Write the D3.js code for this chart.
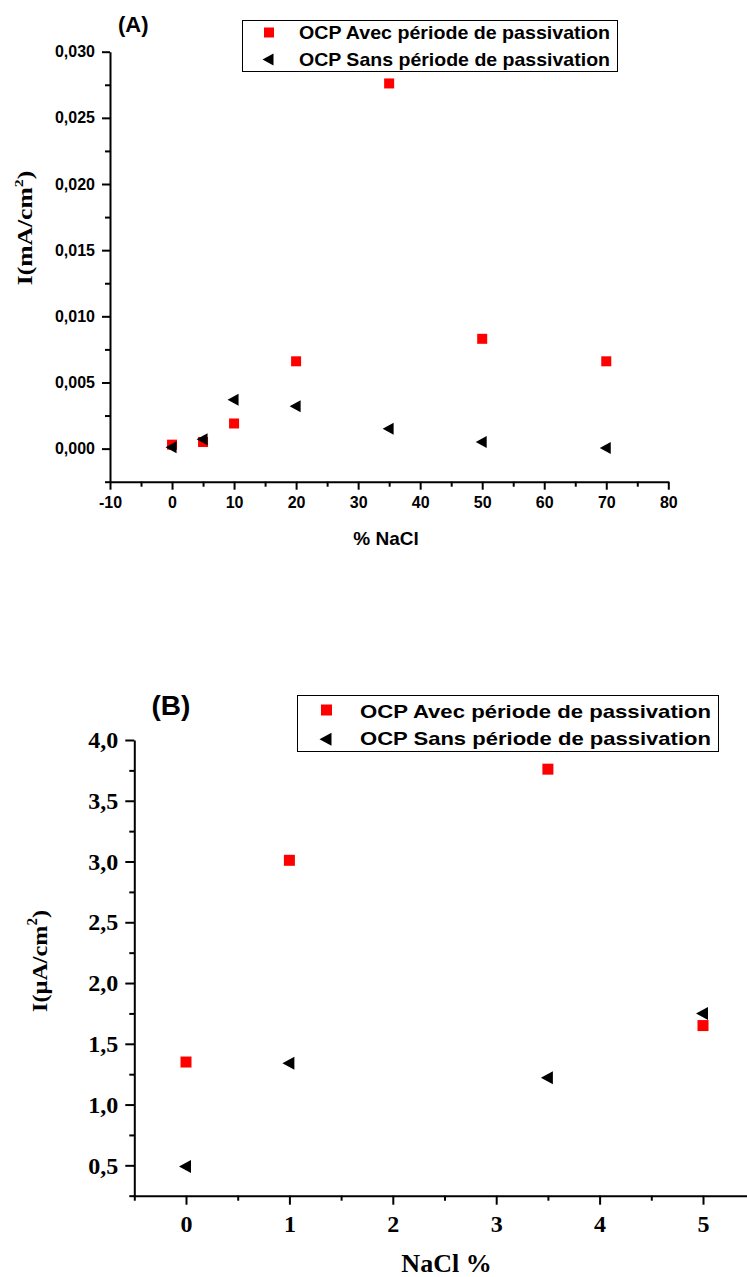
<!DOCTYPE html>
<html>
<head>
<meta charset="utf-8">
<script src="https://cdn.jsdelivr.net/npm/d3@7"></script>
<style>
  html, body { margin: 0; padding: 0; background: #fff; }
  svg { display: block; }
</style>
</head>
<body>
<svg id="fig" width="747" height="1277"></svg>
<script>
// ---- Panel A: current density (mA/cm²) vs % NaCl ----
const aNaCl = [0, 5, 10, 20, 35, 50, 70];
const aAvec = [0.0003, 0.0005, 0.0019, 0.0066, 0.0276, 0.0083, 0.0066];
const aSans = [0.0001, 0.0007, 0.0037, 0.0032, 0.0015, 0.0005, 0.00005];
const aXTicks = [-10, 0, 10, 20, 30, 40, 50, 60, 70, 80];
const aXMinor = [-5, 5, 15, 25, 35, 45, 55, 65, 75];
const aYTicks = [0, 0.005, 0.010, 0.015, 0.020, 0.025, 0.030];
const aYMinor = [-0.0025, 0.0025, 0.0075, 0.0125, 0.0175, 0.0225, 0.0275];

// ---- Panel B: current density (µA/cm²) vs NaCl % ----
const bNaCl = [0, 1, 3.5, 5];
const bAvec = [1.35, 3.01, 3.76, 1.65];
const bSans = [0.49, 1.34, 1.22, 1.75];
const bXTicks = [0, 1, 2, 3, 4, 5];
const bXMinor = [-0.5, 0.5, 1.5, 2.5, 3.5, 4.5, 5.5];
const bYTicks = [0.5, 1.0, 1.5, 2.0, 2.5, 3.0, 3.5, 4.0];
const bYMinor = [0.25, 0.75, 1.25, 1.75, 2.25, 2.75, 3.25, 3.75];

const seriesNames = ["OCP Avec période de passivation", "OCP Sans période de passivation"];

// French number style: comma decimal, plain hyphen for negatives
const fr = d3.formatLocale({ decimal: ",", thousands: " ", grouping: [3], currency: ["", "€"], minus: "-" });
const fmtA = fr.format(".3f");
const fmtB = fr.format(".1f");
const fmtInt = fr.format("d");

const svg = d3.select("#fig");
const SANS = "'Liberation Sans', Arial, sans-serif";
const SERIF = "'Liberation Serif', 'Times New Roman', serif";

function triPath(w, h) {
  return `M${-w / 2},0L${w / 2},${-h / 2}L${w / 2},${h / 2}Z`;
}

function drawAxis(g, axis, font, size) {
  g.call(axis);
  g.select(".domain").attr("stroke", "#000").attr("stroke-width", 2);
  g.selectAll(".tick line").attr("stroke", "#000").attr("stroke-width", 2);
  g.selectAll(".tick text")
    .attr("font-family", font).attr("font-size", size)
    .attr("font-weight", "bold").attr("fill", "#000");
}

function panel(cfg) {
  const g = svg.append("g");
  const x = d3.scaleLinear().domain(cfg.xDomain).range(cfg.xRange);
  const y = d3.scaleLinear().domain(cfg.yDomain).range(cfg.yRange);

  // minor ticks first, then major axes on top
  g.append("g").attr("transform", `translate(0,${cfg.yRange[0]})`)
    .call(d3.axisBottom(x).tickValues(cfg.xMinor).tickSize(cfg.minor).tickSizeOuter(0).tickFormat(""))
    .call(s => { s.select(".domain").remove(); s.selectAll("line").attr("stroke", "#000").attr("stroke-width", 2); });
  g.append("g").attr("transform", `translate(${cfg.xRange[0]},0)`)
    .call(d3.axisLeft(y).tickValues(cfg.yMinor).tickSize(cfg.minor).tickSizeOuter(0).tickFormat(""))
    .call(s => { s.select(".domain").remove(); s.selectAll("line").attr("stroke", "#000").attr("stroke-width", 2); });

  drawAxis(
    g.append("g").attr("transform", `translate(0,${cfg.yRange[0]})`),
    d3.axisBottom(x).tickValues(cfg.xTicks).tickSize(cfg.major).tickSizeOuter(0).tickPadding(cfg.xPad).tickFormat(fmtInt),
    cfg.font, cfg.tickFont);
  drawAxis(
    g.append("g").attr("transform", `translate(${cfg.xRange[0]},0)`),
    d3.axisLeft(y).tickValues(cfg.yTicks).tickSize(cfg.major).tickSizeOuter(0).tickPadding(cfg.yPad).tickFormat(cfg.fmt),
    cfg.font, cfg.tickFont);

  // data markers
  g.append("g").selectAll("rect").data(cfg.xs.map((d, i) => [d, cfg.avec[i]])).join("rect")
    .attr("x", d => x(d[0]) - cfg.sq / 2).attr("y", d => y(d[1]) - cfg.sq / 2)
    .attr("width", cfg.sq).attr("height", cfg.sq).attr("fill", "#ff0000");
  g.append("g").selectAll("path").data(cfg.xs.map((d, i) => [d, cfg.sans[i]])).join("path")
    .attr("d", triPath(cfg.tw, cfg.th))
    .attr("transform", d => `translate(${x(d[0]) - 1},${y(d[1])})`)
    .attr("fill", "#000");

  // legend
  const L = cfg.legend;
  g.append("rect").attr("x", L.x0).attr("y", L.y0).attr("width", L.x1 - L.x0).attr("height", L.y1 - L.y0)
    .attr("fill", "#fff").attr("stroke", "#000").attr("stroke-width", 1);
  g.append("rect").attr("x", L.mx - L.sq / 2).attr("y", L.r1 - L.sq / 2).attr("width", L.sq).attr("height", L.sq)
    .attr("fill", "#ff0000");
  g.append("path").attr("d", triPath(L.tw, L.th)).attr("transform", `translate(${L.mx - 1},${L.r2})`).attr("fill", "#000");
  seriesNames.forEach((name, i) => {
    g.append("text").attr("x", L.tx).attr("y", i === 0 ? L.b1 : L.b2)
      .attr("font-family", SANS).attr("font-weight", "bold").attr("font-size", L.font)
      .attr("textLength", L.tw2).attr("lengthAdjust", "spacingAndGlyphs")
      .text(name);
  });

  // panel tag
  g.append("text").attr("x", cfg.tag.x).attr("y", cfg.tag.y)
    .attr("font-family", SANS).attr("font-weight", "bold").attr("font-size", cfg.tag.size).text(cfg.tag.text);

  // axis titles
  g.append("text").attr("x", cfg.xt.x).attr("y", cfg.xt.y).attr("text-anchor", "middle")
    .attr("font-family", cfg.xt.font).attr("font-weight", "bold").attr("font-size", cfg.xt.size).text(cfg.xt.text);

  const yt = g.append("text")
    .attr("transform", `translate(${cfg.yt.x},${cfg.yt.y}) rotate(-90) scale(${cfg.yt.sx},1)`)
    .attr("text-anchor", "middle")
    .attr("font-family", SERIF).attr("font-weight", "bold").attr("font-size", cfg.yt.size);
  yt.append("tspan").text(cfg.yt.pre);
  yt.append("tspan").attr("font-size", cfg.yt.size * 0.62).attr("dy", -cfg.yt.size * 0.42).text("2");
  yt.append("tspan").attr("dy", cfg.yt.size * 0.42).text(")");
}

panel({
  xDomain: [-10, 80], xRange: [110, 668.3],
  yDomain: [-0.0025, 0.030], yRange: [481.7, 51.7],
  xTicks: aXTicks, xMinor: aXMinor, yTicks: aYTicks, yMinor: aYMinor,
  major: 8, minor: 5, xPad: 7, yPad: 7,
  fmt: fmtA, font: SANS, tickFont: 16,
  xs: aNaCl, avec: aAvec, sans: aSans,
  sq: 10, tw: 11, th: 12,
  legend: { x0: 242.5, y0: 20.5, x1: 617.5, y1: 71.5, mx: 269, r1: 32.5, r2: 59.5, sq: 10, tw: 11, th: 12,
            tx: 299, b1: 39.3, b2: 65.8, font: 18.6, tw2: 311 },
  tag: { x: 118, y: 31.5, size: 22, text: "(A)" },
  xt: { x: 386, y: 545, size: 19, font: SANS, text: "% NaCl" },
  yt: { x: 31.5, y: 228, size: 20, sx: 1.28, pre: "I(mA/cm" }
});

panel({
  xDomain: [-0.5, 5.5], xRange: [134.3, 754.7],
  yDomain: [0.25, 4.0], yRange: [1195.7, 740],
  xTicks: bXTicks, xMinor: bXMinor, yTicks: bYTicks, yMinor: bYMinor,
  major: 9, minor: 5, xPad: 10, yPad: 7,
  fmt: fmtB, font: SERIF, tickFont: 24,
  xs: bNaCl, avec: bAvec, sans: bSans,
  sq: 11, tw: 12, th: 13,
  legend: { x0: 297.5, y0: 695.5, x1: 718.5, y1: 751.5, mx: 326.5, r1: 710, r2: 739.3, sq: 11, tw: 12, th: 13,
            tx: 360, b1: 718.3, b2: 745, font: 18.6, tw2: 351 },
  tag: { x: 151.5, y: 714.5, size: 28, text: "(B)" },
  xt: { x: 446.5, y: 1272, size: 26, font: SERIF, text: "NaCl %" },
  yt: { x: 46.5, y: 961, size: 22, sx: 1.1, pre: "I(µA/cm" }
});
</script>
</body>
</html>
